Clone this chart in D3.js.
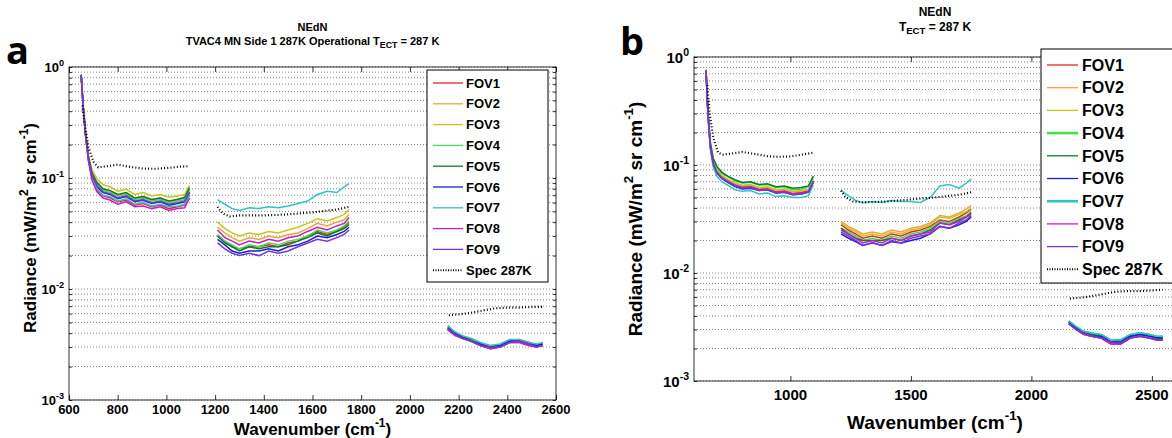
<!DOCTYPE html>
<html>
<head>
<meta charset="utf-8">
<title>NEdN</title>
<script src="https://d3js.org/d3.v7.min.js"></script>
<style>
  body { margin: 0; background: #fff; }
  svg { font-family: Arial, "Liberation Sans", sans-serif; }
  text { font-weight: bold; fill: #000; }
</style>
</head>
<body>
<svg id="chart" width="1172" height="438"></svg>
<script>
// wavenumber grids (cm-1) of the three bands
var band1 = [650, 658, 668, 680, 695, 715, 740, 770, 800, 835, 870, 905, 940, 975, 1010, 1045, 1075, 1095];
var band2 = [1210, 1240, 1270, 1300, 1340, 1380, 1420, 1460, 1500, 1540, 1580, 1620, 1660, 1700, 1730, 1750];
var band3 = [2155, 2185, 2215, 2250, 2290, 2330, 2370, 2410, 2450, 2490, 2520, 2545];
var specGrid1 = [655, 665, 680, 700, 720, 760, 800, 850, 900, 950, 1000, 1050, 1095];
var specGrid2 = [1210, 1230, 1260, 1300, 1400, 1500, 1600, 1700, 1750];
var specGrid3 = [2160, 2200, 2250, 2300, 2350, 2400, 2450, 2500, 2545];

var fovNames = ["FOV1", "FOV2", "FOV3", "FOV4", "FOV5", "FOV6", "FOV7", "FOV8", "FOV9"];
var fovColors = ["#e8262b", "#f2a33a", "#c6c61c", "#3fe04a", "#0b7d2a", "#1c1ce0", "#2ec4c0", "#c41fc4", "#7636d8"];

// panel a : TVAC4 MN Side 1, one row per FOV
var aBand1 = [
  [.85,.45,.25,.145,.098,.078,.069,.066,.061,.063,.057,.059,.055,.057,.053,.055,.057,.070],
  [.85,.45,.25,.155,.110,.090,.080,.076,.070,.073,.066,.068,.064,.066,.061,.064,.066,.079],
  [.86,.46,.26,.160,.118,.098,.087,.083,.076,.079,.071,.074,.069,.071,.067,.069,.071,.086],
  [.85,.45,.25,.152,.108,.088,.077,.074,.068,.071,.064,.066,.062,.064,.060,.062,.064,.078],
  [.85,.45,.25,.155,.110,.091,.080,.077,.071,.074,.066,.068,.064,.066,.062,.064,.067,.082],
  [.85,.44,.24,.148,.103,.083,.074,.071,.065,.068,.061,.063,.059,.061,.057,.059,.061,.074],
  [.84,.44,.24,.145,.100,.080,.070,.068,.062,.065,.058,.060,.056,.058,.055,.056,.058,.070],
  [.84,.44,.24,.142,.095,.075,.066,.063,.058,.061,.055,.056,.053,.055,.051,.053,.054,.066],
  [.85,.45,.25,.150,.105,.085,.075,.072,.066,.069,.062,.064,.060,.062,.058,.060,.062,.075]
];
var aBand2 = [
  [.030,.027,.024,.023,.024,.024,.025,.024,.026,.027,.030,.033,.031,.033,.036,.040],
  [.036,.032,.029,.027,.029,.028,.030,.029,.031,.032,.035,.039,.037,.040,.042,.047],
  [.040,.035,.032,.030,.032,.031,.033,.032,.034,.036,.039,.043,.041,.044,.047,.052],
  [.031,.027,.025,.023,.025,.024,.026,.025,.027,.028,.030,.034,.032,.034,.037,.041],
  [.030,.026,.024,.022,.024,.023,.024,.024,.025,.027,.029,.032,.030,.033,.035,.038],
  [.028,.025,.022,.021,.022,.022,.023,.022,.024,.025,.027,.030,.029,.031,.033,.036],
  [.064,.058,.053,.051,.054,.053,.055,.054,.056,.059,.062,.071,.076,.074,.083,.089],
  [.034,.029,.027,.025,.027,.026,.028,.027,.029,.030,.033,.036,.034,.037,.039,.044],
  [.026,.023,.021,.020,.021,.020,.022,.021,.022,.024,.026,.028,.027,.029,.031,.034]
];
var aBand3 = [
  [.0044,.0039,.0036,.0034,.0031,.0029,.0030,.0033,.0033,.0031,.0030,.0031],
  [.0046,.0041,.0038,.0035,.0032,.0030,.0031,.0034,.0035,.0033,.0031,.0032],
  [.0045,.0040,.0037,.0035,.0032,.0031,.0031,.0034,.0034,.0032,.0031,.0033],
  [.0043,.0039,.0036,.0034,.0031,.0029,.0030,.0033,.0034,.0032,.0030,.0031],
  [.0044,.0040,.0037,.0035,.0032,.0030,.0031,.0034,.0034,.0032,.0031,.0032],
  [.0045,.0040,.0037,.0034,.0032,.0030,.0031,.0034,.0034,.0033,.0031,.0032],
  [.0047,.0041,.0038,.0036,.0033,.0031,.0032,.0035,.0035,.0033,.0032,.0033],
  [.0043,.0038,.0036,.0034,.0031,.0029,.0030,.0033,.0033,.0031,.0030,.0031],
  [.0044,.0039,.0036,.0034,.0031,.0030,.0030,.0033,.0034,.0032,.0030,.0031]
];
var aSpec1 = [.45,.30,.19,.14,.125,.128,.132,.126,.122,.121,.123,.126,.128];
var aSpec2 = [.055,.048,.045,.046,.046,.047,.049,.052,.055];
var aSpec3 = [.0058,.0059,.0061,.0064,.0067,.0068,.0068,.0069,.0069];

// panel b
var bBand1 = [
  [.75,.30,.150,.105,.088,.078,.072,.066,.063,.064,.060,.061,.057,.058,.055,.056,.058,.072],
  [.75,.30,.150,.107,.090,.080,.073,.067,.064,.065,.061,.062,.058,.059,.056,.057,.059,.073],
  [.75,.30,.150,.108,.091,.080,.074,.068,.065,.066,.062,.063,.059,.060,.057,.058,.060,.074],
  [.76,.31,.160,.113,.095,.084,.078,.071,.068,.069,.065,.066,.062,.063,.059,.060,.063,.078],
  [.76,.31,.160,.115,.097,.086,.079,.073,.069,.070,.066,.067,.063,.064,.061,.062,.064,.079],
  [.74,.29,.145,.101,.084,.075,.069,.063,.060,.061,.058,.059,.055,.056,.053,.054,.056,.069],
  [.73,.28,.140,.095,.079,.070,.065,.059,.057,.058,.054,.055,.051,.052,.050,.050,.052,.065],
  [.75,.29,.147,.103,.086,.076,.071,.065,.062,.063,.059,.060,.056,.057,.054,.055,.057,.071],
  [.74,.29,.146,.102,.085,.076,.070,.064,.061,.062,.058,.059,.055,.056,.053,.054,.056,.070]
];
var bBand2 = [
  [.028,.025,.023,.021,.022,.021,.023,.022,.024,.025,.027,.031,.030,.033,.036,.039],
  [.030,.027,.025,.023,.024,.023,.025,.024,.026,.027,.029,.034,.033,.036,.039,.042],
  [.029,.026,.024,.022,.023,.022,.024,.023,.025,.026,.028,.033,.032,.035,.037,.040],
  [.026,.024,.022,.020,.021,.020,.022,.021,.023,.024,.026,.030,.029,.032,.034,.037],
  [.026,.023,.021,.020,.020,.020,.021,.020,.022,.023,.025,.029,.028,.031,.033,.036],
  [.023,.021,.0195,.018,.019,.018,.0195,.019,.020,.021,.023,.027,.026,.028,.030,.033],
  [.058,.052,.047,.045,.046,.045,.047,.046,.046,.045,.050,.064,.066,.061,.068,.074],
  [.025,.023,.021,.019,.020,.019,.021,.020,.022,.023,.024,.029,.028,.030,.033,.035],
  [.024,.022,.020,.018,.019,.018,.020,.019,.021,.022,.023,.027,.026,.029,.031,.034]
];
var bBand3 = [
  [.0034,.0030,.0027,.0026,.0025,.0022,.0022,.0025,.0026,.0025,.0024,.0024],
  [.0035,.0031,.0028,.0027,.0026,.0023,.0023,.0026,.0027,.0026,.0025,.0025],
  [.0035,.0031,.0028,.0027,.0026,.0023,.0023,.0026,.0027,.0026,.0025,.0025],
  [.0036,.0032,.0029,.0027,.0027,.0024,.0024,.0027,.0028,.0027,.0026,.0026],
  [.0035,.0031,.0028,.0027,.0026,.0023,.0024,.0026,.0027,.0027,.0025,.0025],
  [.0035,.0031,.0028,.0026,.0026,.0023,.0023,.0026,.0027,.0026,.0025,.0025],
  [.0036,.0032,.0029,.0028,.0027,.0024,.0024,.0027,.0028,.0027,.0026,.0026],
  [.0034,.0030,.0027,.0026,.0025,.0022,.0022,.0025,.0026,.0025,.0024,.0024],
  [.0034,.0030,.0028,.0026,.0025,.0023,.0022,.0025,.0026,.0025,.0024,.0024]
];
var bSpec1 = [.55,.30,.18,.13,.125,.128,.132,.127,.121,.119,.120,.125,.130];
var bSpec2 = [.058,.050,.046,.045,.046,.048,.050,.053,.056];
var bSpec3 = [.0058,.0059,.0061,.0064,.0067,.0068,.0068,.0069,.0070];

var aTicks = [600, 800, 1000, 1200, 1400, 1600, 1800, 2000, 2200, 2400, 2600];
var bTicks = [1000, 1500, 2000, 2500];
var decades = [0, -1, -2, -3];

var svg = d3.select("#chart");

function zip(xs, ys) {
  return xs.map(function(x, i) { return [x, ys[i]]; });
}

function drawPanel(p) {
  var x = d3.scaleLinear().domain([600, 2600]).range([p.left, p.right]);
  var y = d3.scaleLog().domain([1e-3, 1]).range([p.bottom, p.top]);
  var g = svg.append("g");

  // minor log values for grid and ticks
  var minor = [];
  [-3, -2, -1].forEach(function(k) {
    for (var m = 1; m <= 9; m++) minor.push(m * Math.pow(10, k));
  });
  minor.push(1);

  g.selectAll(".grid").data(minor).enter().append("line")
    .attr("x1", p.left).attr("x2", p.right)
    .attr("y1", function(d) { return y(d); }).attr("y2", function(d) { return y(d); })
    .attr("stroke", "#666").attr("stroke-width", 0.8)
    .attr("stroke-dasharray", "1,2");

  // FOV traces
  var line = d3.line().x(function(d) { return x(d[0]); }).y(function(d) { return y(d[1]); });
  [[band1, p.data[0]], [band2, p.data[1]], [band3, p.data[2]]].forEach(function(b) {
    b[1].forEach(function(vals, i) {
      g.append("path").datum(zip(b[0], vals))
        .attr("d", line).attr("fill", "none")
        .attr("stroke", fovColors[i]).attr("stroke-width", 1.5);
    });
  });
  // spec
  [[specGrid1, p.spec[0]], [specGrid2, p.spec[1]], [specGrid3, p.spec[2]]].forEach(function(s) {
    g.append("path").datum(zip(s[0], s[1]))
      .attr("d", line).attr("fill", "none")
      .attr("stroke", "#000").attr("stroke-width", 2.2)
      .attr("stroke-dasharray", "1,2.2");
  });

  // axes box with inward ticks
  var ax = g.append("g");
  ax.append("rect").attr("x", p.left).attr("y", p.top)
    .attr("width", p.right - p.left).attr("height", p.bottom - p.top)
    .attr("fill", "none").attr("stroke", "#000").attr("stroke-width", 0.8);

  var xt = p.xTicks;
  ax.append("g").attr("transform", "translate(0," + p.bottom + ")")
    .call(d3.axisBottom(x).tickValues(xt).tickSize(-5).tickFormat(""))
    .call(function(s) { s.select(".domain").remove(); });
  ax.append("g").attr("transform", "translate(0," + p.top + ")")
    .call(d3.axisTop(x).tickValues(xt).tickSize(-5).tickFormat(""))
    .call(function(s) { s.select(".domain").remove(); });
  ax.append("g").attr("transform", "translate(" + p.left + ",0)")
    .call(d3.axisLeft(y).tickValues(minor).tickSize(-3).tickFormat(""))
    .call(function(s) { s.select(".domain").remove(); });
  ax.append("g").attr("transform", "translate(" + p.right + ",0)")
    .call(d3.axisRight(y).tickValues(minor).tickSize(-3).tickFormat(""))
    .call(function(s) { s.select(".domain").remove(); });
  ax.selectAll(".tick line").attr("stroke", "#000").attr("stroke-width", 0.8);

  // x tick labels
  g.selectAll(".xl").data(p.xLabels).enter().append("text")
    .attr("x", function(d) { return x(d); })
    .attr("y", p.bottom + p.xLabelDy)
    .attr("text-anchor", "middle")
    .style("font-size", p.tickFont + "px")
    .text(function(d) { return d; });

  // y tick labels 10^k
  decades.forEach(function(k) {
    var t = g.append("text")
      .attr("x", p.left - 5).attr("y", y(Math.pow(10, k)) + p.tickFont * 0.4)
      .attr("text-anchor", "end")
      .style("font-size", p.tickFont + "px");
    t.append("tspan").text("10");
    t.append("tspan").attr("dy", -p.tickFont * 0.5)
      .style("font-size", (p.tickFont * 0.7) + "px").text(k);
  });

  // axis titles
  var xl = g.append("text").attr("x", (p.left + p.right) / 2).attr("y", p.xTitleY)
    .attr("text-anchor", "middle").style("font-size", p.titleFont + "px");
  xl.append("tspan").text("Wavenumber (cm");
  xl.append("tspan").attr("dy", -p.titleFont * 0.45).style("font-size", (p.titleFont * 0.7) + "px").text("-1");
  xl.append("tspan").attr("dy", p.titleFont * 0.45).text(")");

  var yl = g.append("text")
    .attr("transform", "translate(" + p.yTitleX + "," + p.yTitleY + ") rotate(-90)")
    .attr("text-anchor", "middle").style("font-size", p.titleFont + "px");
  yl.append("tspan").text("Radiance (mW/m");
  yl.append("tspan").attr("dy", -p.titleFont * 0.45).style("font-size", (p.titleFont * 0.7) + "px").text("2");
  yl.append("tspan").attr("dy", p.titleFont * 0.45).text(" sr cm");
  yl.append("tspan").attr("dy", -p.titleFont * 0.45).style("font-size", (p.titleFont * 0.7) + "px").text("-1");
  yl.append("tspan").attr("dy", p.titleFont * 0.45).text(")");

  // chart title
  var cx = (p.left + p.right) / 2;
  g.append("text").attr("x", cx).attr("y", p.headY[0]).attr("text-anchor", "middle")
    .style("font-size", p.headFont + "px").text("NEdN");
  var h2 = g.append("text").attr("x", cx).attr("y", p.headY[1]).attr("text-anchor", "middle")
    .style("font-size", p.headFont + "px");
  h2.append("tspan").text(p.headPrefix + "T");
  h2.append("tspan").attr("dy", 3).style("font-size", (p.headFont * 0.8) + "px").text("ECT");
  h2.append("tspan").attr("dy", -3).text(" = 287 K");

  // panel letter
  g.append("text").attr("x", p.letterX).attr("y", p.letterY)
    .style("font-size", "38px").style("font-family", "'Open Sans', Arial, sans-serif")
    .text(p.letter);

  // legend
  var L = p.legend;
  var lg = g.append("g");
  lg.append("rect").attr("x", L.x).attr("y", L.y).attr("width", L.w).attr("height", L.h)
    .attr("fill", "#fff").attr("stroke", "#000").attr("stroke-width", 1);
  var names = fovNames.concat(["Spec 287K"]);
  names.forEach(function(n, i) {
    var yy = L.row0 + i * L.step;
    var ln = lg.append("line").attr("x1", L.lx0).attr("x2", L.lx1).attr("y1", yy).attr("y2", yy);
    if (i < 9) {
      ln.attr("stroke", fovColors[i]).attr("stroke-width", (L.thick && L.thick.indexOf(i) >= 0) ? 2.6 : 1.3);
    } else {
      ln.attr("stroke", "#000").attr("stroke-width", 2).attr("stroke-dasharray", "1,1.5");
    }
    lg.append("text").attr("x", L.tx).attr("y", yy + L.font * 0.36)
      .style("font-size", L.font + "px").text(n);
  });
}

drawPanel({
  left: 69, right: 556, top: 67, bottom: 400,
  xTicks: aTicks, xLabels: aTicks, xLabelDy: 14, tickFont: 13,
  titleFont: 17, xTitleY: 435, yTitleX: 36, yTitleY: 228,
  headFont: 11, headY: [31, 45], headPrefix: "TVAC4 MN Side 1 287K Operational ",
  letter: "a", letterX: 6, letterY: 64,
  data: [aBand1, aBand2, aBand3], spec: [aSpec1, aSpec2, aSpec3],
  legend: { x: 427, y: 70, w: 121, h: 212, row0: 83, step: 20.8, lx0: 433, lx1: 463, tx: 466, font: 13 }
});

drawPanel({
  left: 694, right: 1176, top: 57, bottom: 381,
  xTicks: bTicks, xLabels: bTicks, xLabelDy: 19, tickFont: 15,
  titleFont: 19, xTitleY: 429, yTitleX: 642, yTitleY: 219,
  headFont: 12, headY: [16, 31], headPrefix: "",
  letter: "b", letterX: 620, letterY: 55,
  data: [bBand1, bBand2, bBand3], spec: [bSpec1, bSpec2, bSpec3],
  legend: { x: 1041, y: 49, w: 140, h: 234, row0: 65, step: 22.7, lx0: 1047, lx1: 1078, tx: 1082, font: 16, thick: [3, 6] }
});
</script>
</body>
</html>
